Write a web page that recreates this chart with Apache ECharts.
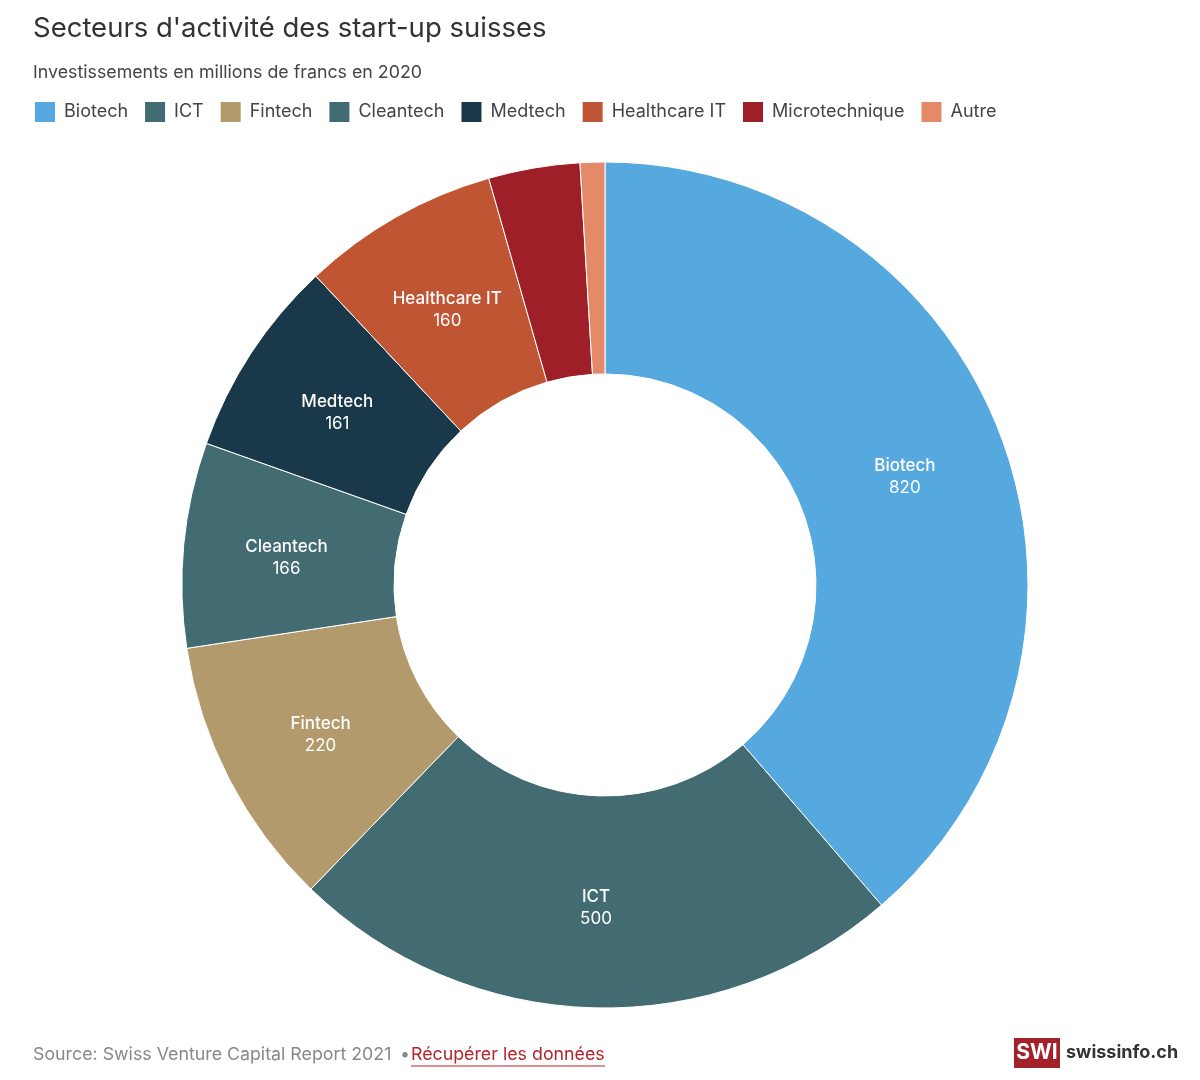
<!DOCTYPE html>
<html>
<head>
<meta charset="utf-8">
<style>html,body{margin:0;padding:0;background:#fff;}#chart{width:1200px;height:1080px;}</style>
<script src="https://cdn.jsdelivr.net/npm/echarts@6/dist/echarts.min.js"></script>
</head>
<body>
<div id="chart"></div>
<script>
const categories = ['Biotech','ICT','Fintech','Cleantech','Medtech','Healthcare IT','Microtechnique','Autre'];
const values = [820, 500, 220, 166, 161, 160, 74, 20];
const colors = ['#55a9de','#426c72','#b39a6c','#426c72','#19394a','#c05534','#9e1f27','#e48a68'];
const labelShown = [true, true, true, true, true, true, false, false];

const chart = echarts.init(document.getElementById('chart'));
const FONT = 'Inter, "Noto Sans", sans-serif';
chart.setOption({
  animation: false,
  textStyle: {fontFamily: FONT},
  title: {
    text: "Secteurs d'activité des start-up suisses",
    subtext: 'Investissements en millions de francs en 2020',
    left: 28, top: 10,
    itemGap: 21,
    textStyle: {fontFamily: FONT, fontSize: 27.5, fontWeight: 'normal', color: '#333'},
    subtextStyle: {fontFamily: FONT, fontSize: 17.8, color: '#444'}
  },
  legend: {
    left: 28, top: 95,
    icon: 'rect', itemWidth: 22, itemHeight: 22, itemGap: 15,
    textStyle: {fontFamily: FONT, fontSize: 18, color: '#444', padding: [0,0,0,3]},
    data: categories
  },
  color: colors,
  series: [{
    type: 'pie',
    center: [605, 585],
    radius: [211, 423],
    startAngle: 90,
    clockwise: true,
    avoidLabelOverlap: false,
    itemStyle: {borderColor: '#fff', borderWidth: 1},
    label: {
      show: true, position: 'inside', offset: [0, 3],
      formatter: p => '{n|' + p.name + '}\n{v|' + p.value + '}',
      rich: {
        n: {fontFamily: FONT, fontSize: 17, fontWeight: 500, color: '#fff', lineHeight: 22},
        v: {fontFamily: FONT, fontSize: 17, color: '#fff', lineHeight: 22}
      }
    },
    labelLine: {show: false},
    emphasis: {disabled: true},
    data: categories.map((c, i) => ({name: c, value: values[i], label: {show: labelShown[i]}}))
  }],
  graphic: [
    {type: 'text', left: 33, top: 1046, style: {text: 'Source: Swiss Venture Capital Report 2021', font: '17.8px ' + FONT, fill: '#888'}},
    {type: 'text', left: 400, top: 1046, style: {text: '•', font: '17.8px ' + FONT, fill: '#888'}},
    {type: 'text', left: 411, top: 1046, style: {text: 'Récupérer les données', font: '17.8px ' + FONT, fill: '#b5232b'}},
    {type: 'line', shape: {x1: 411, y1: 1066, x2: 605, y2: 1066}, style: {stroke: '#b5232b', lineWidth: 1}},
    {type: 'rect', shape: {x: 1014, y: 1038, width: 46, height: 30}, style: {fill: '#a3222a'}},
    {type: 'text', x: 1037, y: 1053, style: {text: 'SWI', font: 'bold 21px ' + FONT, fill: '#fff', align: 'center', verticalAlign: 'middle'}},
    {type: 'text', x: 1066, y: 1053, style: {text: 'swissinfo.ch', font: 'bold 18px ' + FONT, fill: '#333', verticalAlign: 'middle'}}
  ]
});
</script>
</body>
</html>
